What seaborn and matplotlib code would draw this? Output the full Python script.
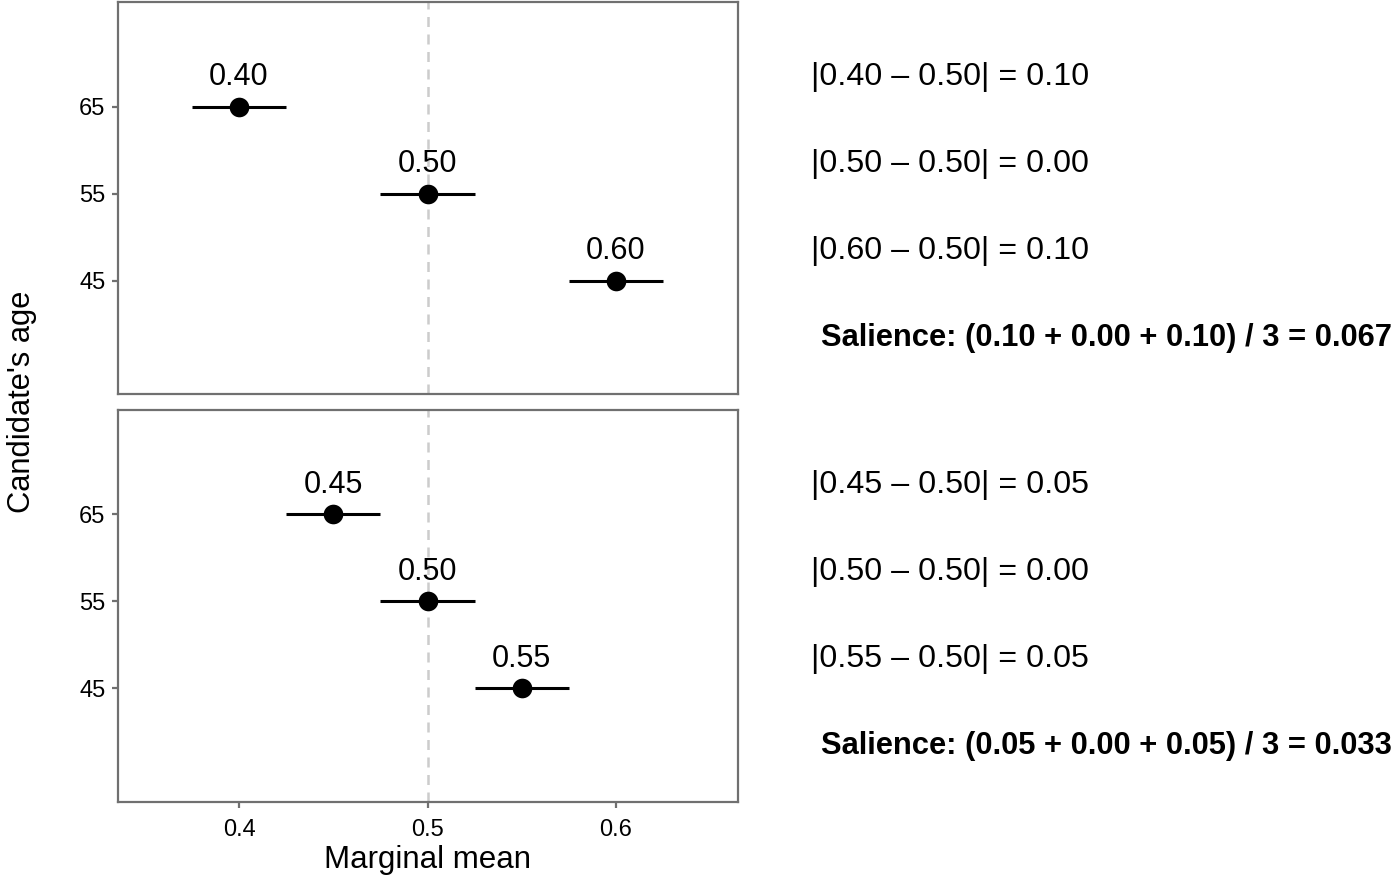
import numpy as np
import pandas as pd
import seaborn as sns
import matplotlib.pyplot as plt
import matplotlib.transforms as mtransforms

ages = ['65', '55', '45']
mm_top = [0.40, 0.50, 0.60]
lo_top = [0.375, 0.475, 0.575]
hi_top = [0.425, 0.525, 0.625]
mm_bottom = [0.45, 0.50, 0.55]
lo_bottom = [0.425, 0.475, 0.525]
hi_bottom = [0.475, 0.525, 0.575]
reference = 0.50
x_ticks = [0.4, 0.5, 0.6]

sns.set_style('white')
plt.rcParams['font.family'] = ['Liberation Sans', 'DejaVu Sans']
plt.rcParams['text.color'] = 'black'

fig, axes = plt.subplots(2, 1, figsize=(13.95, 8.88), dpi=100, sharex=True)
fig.subplots_adjust(left=118/1395, right=738/1395, top=1-2/888, bottom=1-802/888, hspace=15/392)

frame_col = '#707070'
label_off = 0.34

for ax, mm, lo, hi in zip(axes, [mm_top, mm_bottom], [lo_top, lo_bottom], [hi_top, hi_bottom]):
    df = pd.DataFrame({'age': ages, 'mm': mm, 'lo': lo, 'hi': hi})
    df['pos'] = np.arange(len(df))
    ax.axvline(reference, color='#cccccc', lw=1.8, ls=(0, (4, 3)), zorder=0)
    ax.hlines(df['pos'], df['lo'], df['hi'], color='black', lw=2.2, zorder=2)
    sns.scatterplot(data=df, x='mm', y='pos', color='black', s=200, edgecolor='black',
                    linewidth=0, ax=ax, zorder=3, legend=False)
    for _, r in df.iterrows():
        ax.text(r['mm'], r['pos'] - label_off, f"{r['mm']:.2f}", ha='center', va='center',
                fontsize=22, color='black')

    # annotations to the right of the panel
    trans = mtransforms.blended_transform_factory(fig.transFigure, ax.transData)
    diffs = [abs(v - reference) for v in mm]
    for i, (v, d) in enumerate(zip(mm, diffs)):
        ax.text(811/1395, i - label_off, f"|{v:.2f} – {reference:.2f}| = {d:.2f}",
                transform=trans, ha='left', va='center', fontsize=23.2, color='black', clip_on=False)
    sal = np.mean(diffs)
    ax.text(821/1395, len(mm) - label_off,
            f"Salience: ({diffs[0]:.2f} + {diffs[1]:.2f} + {diffs[2]:.2f}) / 3 = {sal:.3f}",
            transform=trans, ha='left', va='center', fontsize=22.2, fontweight='bold',
            color='black', clip_on=False)

    ax.set_ylim(3.31, -1.207)
    ax.set_yticks(df['pos'])
    ax.set_yticklabels(ages)
    ax.set_xlim(0.3358, 0.6647)
    ax.set_xticks(x_ticks)
    ax.set_xticklabels([f"{t:.1f}" for t in x_ticks])
    ax.set_xlabel('')
    ax.set_ylabel('')
    for sp in ax.spines.values():
        sp.set_color(frame_col)
        sp.set_linewidth(1.6)
    ax.tick_params(axis='both', which='both', length=4, width=1.6, color=frame_col,
                   labelsize=17, labelcolor='black', pad=5, left=True, bottom=True)
    ax.tick_params(axis='x', pad=8)

axes[0].tick_params(axis='x', bottom=False, labelbottom=False)

fig.text(428/1395, 1 - 860/888, 'Marginal mean', ha='center', va='center', fontsize=22.5, color='black')
fig.text(22/1395, 1 - 402/888, "Candidate's age", ha='center', va='center', rotation=90,
         fontsize=22.2, color='black')

fig.savefig('out.png', dpi=100)
